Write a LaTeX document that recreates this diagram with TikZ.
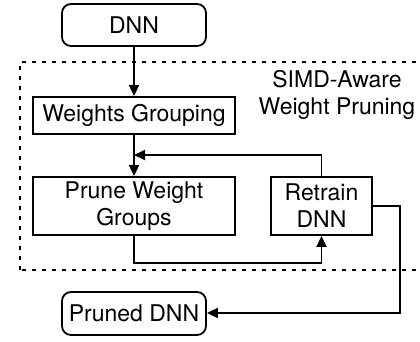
\documentclass[tikz,border=0pt]{standalone}
\usepackage{fontspec}
\setmainfont{TeX Gyre Heros}
\usetikzlibrary{arrows.meta}
\begin{document}
\begin{tikzpicture}[x=1pt,y=1pt,
  line width=1.8pt,
  every node/.style={font=\fontsize{23}{27}\selectfont, align=center, inner sep=0pt},
  box/.style={draw, line width=1.8pt},
  rbox/.style={draw, line width=1.8pt, rounded corners=9pt},
  arr/.style={-{Triangle[length=11pt,width=10pt]}, line width=1.8pt},
  dotbox/.style={line width=1.8pt, dash pattern=on 4pt off 6pt}]
\useasboundingbox (0,0) rectangle (420,341);
\begin{scope}
\clip (0,0) rectangle (420,341);
\draw[dotbox] (20,71) rectangle (440,279);
\end{scope}
\node[rbox, minimum width=144pt, minimum height=42pt] (dnn) at (134,316) {DNN};
\node[box, minimum width=202pt, minimum height=37pt] (wg) at (134,225.5) {Weights Grouping};
\node[box, minimum width=202pt, minimum height=58pt] (pwg) at (134,135) {Prune Weight\\Groups};
\node[box, minimum width=101pt, minimum height=58pt] (rt) at (321.5,135) {Retrain\\DNN};
\node[rbox, minimum width=144pt, minimum height=43pt] (pd) at (134,27.5) {Pruned DNN};
\node (lbl) at (337,246) {SIMD-Aware\\Weight Pruning};
\coordinate (j1) at (134,186);
\coordinate (c1) at (321.5,186);
\coordinate (c2) at (134,78);
\coordinate (c3) at (321.5,78);
\coordinate (c4) at (400,135);
\coordinate (c5) at (400,28);
\draw[arr] (dnn) -- (wg);
\draw[arr] (wg) -- (pwg);
\draw[arr] (rt.north) -- (c1) -- (j1);
\draw[arr] (pwg.south) -- (c2) -- (c3) -- (rt.south);
\draw[arr] (rt.east) -- (c4) -- (c5) -- (pd.east |- c5);
\end{tikzpicture}
\end{document}
